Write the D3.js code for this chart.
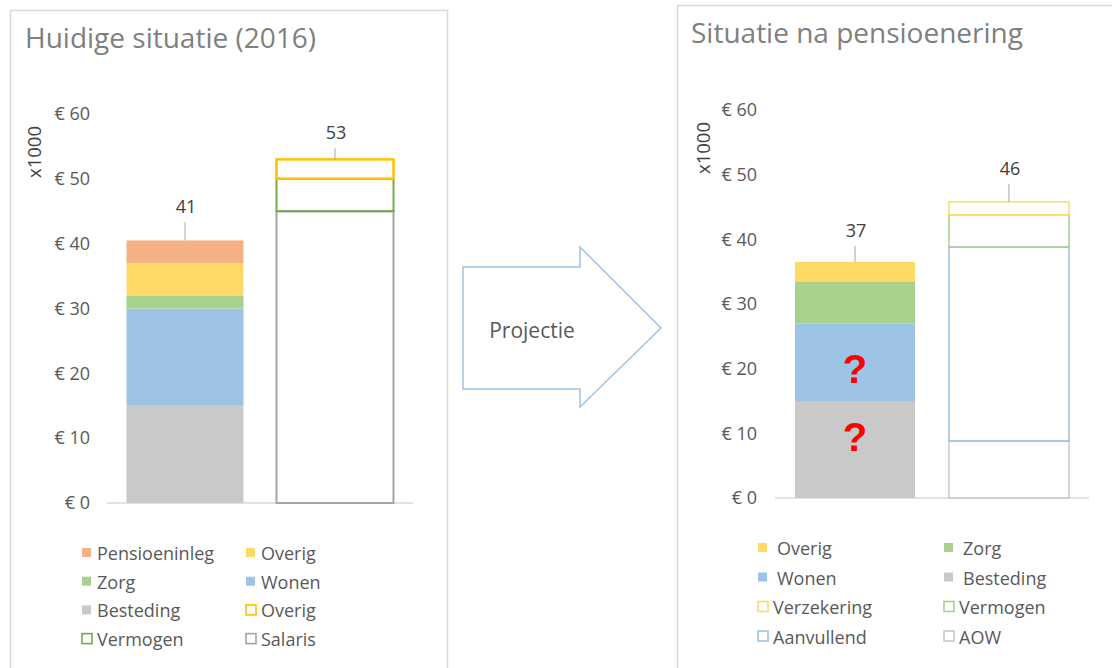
<!DOCTYPE html>
<html>
<head>
<meta charset="utf-8">
<script src="https://cdn.jsdelivr.net/npm/d3@7"></script>
<style>
  html, body { margin: 0; padding: 0; background: #fff; }
  svg { display: block; font-family: "Open Sans", "DejaVu Sans", sans-serif; }
</style>
</head>
<body>
<svg id="chart" width="1112" height="668"></svg>
<script>
// ---------------- DATA ----------------
const bars = ["Uitgaven", "Inkomsten"];
const yTicks = [0, 10, 20, 30, 40, 50, 60];

// Left panel: Huidige situatie (2016)  — values x1000 euro, per bar [Uitgaven, Inkomsten]
const leftTitle = "Huidige situatie (2016)";
const leftSeries = ["Besteding", "Wonen", "Zorg", "Overig", "Pensioeninleg", "Salaris", "Vermogen", "Overig "];
const leftBesteding     = [15, 0];
const leftWonen         = [15, 0];
const leftZorg          = [2, 0];
const leftOverig        = [5, 0];
const leftPensioeninleg = [3.5, 0];
const leftSalaris       = [0, 45];
const leftVermogen      = [0, 5];
const leftOverigInk     = [0, 3];
const leftTotals        = ["41", "53"];
const leftLegend = ["Pensioeninleg", "Overig", "Zorg", "Wonen", "Besteding", "Overig ", "Vermogen", "Salaris"];

// Right panel: Situatie na pensioenering
const rightTitle = "Situatie na pensioenering";
const rightSeries = ["Besteding", "Wonen", "Zorg", "Overig", "AOW", "Aanvullend", "Vermogen", "Verzekering"];
const rightBesteding   = [15, 0];
const rightWonen       = [12, 0];
const rightZorg        = [6.5, 0];
const rightOverig      = [3, 0];
const rightAOW         = [0, 8.8];
const rightAanvullend  = [0, 30];
const rightVermogen    = [0, 5];
const rightVerzekering = [0, 2];
const rightTotals      = ["37", "46"];
const rightLegend = ["Overig", "Zorg", "Wonen", "Besteding", "Verzekering", "Vermogen", "Aanvullend", "AOW"];
const rightQuestion = [{ series: "Wonen", value: 20 }, { series: "Besteding", value: 9.5 }];

// ---------------- STYLES ----------------
const leftStyle = {
  "Besteding": { fill: "#c9c9c9" }, "Wonen": { fill: "#9dc3e6" }, "Zorg": { fill: "#a9d18e" },
  "Overig": { fill: "#ffd966" }, "Pensioeninleg": { fill: "#f4b183" },
  "Salaris": { stroke: "#a5a5a5", sw: 2 }, "Vermogen": { stroke: "#70ad47", sw: 2 }, "Overig ": { stroke: "#ffc000", sw: 2.5 }
};
const rightStyle = {
  "Besteding": { fill: "#c9c9c9" }, "Wonen": { fill: "#9dc3e6" }, "Zorg": { fill: "#a9d18e" },
  "Overig": { fill: "#ffd966" },
  "AOW": { stroke: "#c9c9c9", sw: 1.5 }, "Aanvullend": { stroke: "#9dc3e6", sw: 1.5 },
  "Vermogen": { stroke: "#a9d18e", sw: 1.5 }, "Verzekering": { stroke: "#ffd966", sw: 1.5 }
};

const svg = d3.select("#chart");

function buildRows(names, arrays) {
  return bars.map((b, i) => {
    const row = { bar: b };
    names.forEach((n, k) => row[n] = arrays[k][i]);
    return row;
  });
}

function drawPanel(cfg) {
  const g = svg.append("g");
  // panel frame
  g.append("rect").attr("x", cfg.frame[0] + 0.5).attr("y", cfg.frame[1] + 0.5)
    .attr("width", cfg.frame[2]).attr("height", cfg.frame[3])
    .attr("fill", "#fff").attr("stroke", "#d9d9d9").attr("stroke-width", 1.5);
  // title
  g.append("text").attr("x", cfg.titleX).attr("y", cfg.titleY)
    .attr("font-size", 28).attr("fill", "#7f7f7f").text(cfg.title);

  const y = d3.scaleLinear().domain([0, 60]).range(cfg.yRange);
  const x = d3.scaleBand().domain(bars).range(cfg.xRange).paddingInner(0.22).paddingOuter(0.13);

  // axis
  const ax = g.append("g").attr("transform", `translate(${cfg.xRange[0]},0)`)
    .call(d3.axisLeft(y).tickValues(yTicks).tickSize(0).tickPadding(cfg.tickPad).tickFormat(d => "€ " + d));
  ax.select(".domain").remove();
  ax.selectAll("text").attr("font-size", 18).attr("fill", "#595959")
    .attr("font-family", "'Open Sans', sans-serif");

  // axis title
  g.append("text").attr("transform", `translate(${cfg.unitX},${cfg.unitY}) rotate(-90)`)
    .attr("text-anchor", "middle").attr("dominant-baseline", "central")
    .attr("font-size", 18.5).attr("fill", "#404040").text("x1000");

  // baseline
  g.append("line").attr("x1", cfg.xRange[0]).attr("x2", cfg.xRange[1])
    .attr("y1", y(0)).attr("y2", y(0)).attr("stroke", "#d9d9d9").attr("stroke-width", 1.5);

  const rows = buildRows(cfg.series, cfg.arrays);
  const stacked = d3.stack().keys(cfg.series)(rows);

  stacked.forEach(layer => {
    const st = cfg.style[layer.key];
    layer.forEach((d, i) => {
      if (d[1] - d[0] <= 0) return;
      const r = g.append("rect")
        .attr("x", x(bars[i])).attr("width", x.bandwidth())
        .attr("y", y(d[1])).attr("height", y(d[0]) - y(d[1]));
      if (st.fill) r.attr("fill", st.fill);
      else r.attr("fill", "none").attr("stroke", st.stroke).attr("stroke-width", st.sw);
    });
  });

  // totals with leader lines
  bars.forEach((b, i) => {
    const top = d3.max(stacked, l => l[i][1]);
    const cx = x(b) + x.bandwidth() / 2;
    const off = cfg.labelOff[i];
    g.append("line").attr("x1", cx).attr("x2", cx)
      .attr("y1", y(top) - off + 16).attr("y2", y(top))
      .attr("stroke", "#a6a6a6").attr("stroke-width", 1);
    g.append("text").attr("x", cx + 1).attr("y", y(top) - off)
      .attr("text-anchor", "middle").attr("dominant-baseline", "central")
      .attr("font-size", 18).attr("fill", "#404040").text(cfg.totals[i]);
  });

  // question marks
  (cfg.question || []).forEach(q => {
    g.append("text").attr("x", x(bars[0]) + x.bandwidth() / 2).attr("y", y(q.value))
      .attr("text-anchor", "middle").attr("dominant-baseline", "central")
      .attr("font-size", 40).attr("font-weight", "bold").attr("fill", "#ff0000")
      .attr("font-family", "'Liberation Sans', Arial, sans-serif").text("?");
  });

  // legend
  cfg.legend.forEach((name, k) => {
    const col = k % 2, row = Math.floor(k / 2);
    const lx = cfg.legX[col], ly = cfg.legY + row * cfg.legDy;
    const st = cfg.style[name];
    if (st.fill) {
      g.append("rect").attr("x", lx + 1).attr("y", ly - 5).attr("width", 9).attr("height", 9).attr("fill", st.fill);
    } else {
      g.append("rect").attr("x", lx + 1).attr("y", ly - 5.5).attr("width", 10).attr("height", 10)
        .attr("fill", "none").attr("stroke", st.stroke).attr("stroke-width", 1.6);
    }
    g.append("text").attr("x", lx + (st.fill ? cfg.legTxtFill : cfg.legTxtLine)).attr("y", ly)
      .attr("dominant-baseline", "central").attr("font-size", 18).attr("fill", "#595959")
      .text(name.trim());
  });
}

drawPanel({
  frame: [10, 10, 437, 700], title: leftTitle, titleX: 25, titleY: 48,
  yRange: [503, 114], xRange: [107, 413], tickPad: 17, unitX: 33, unitY: 152,
  series: leftSeries,
  arrays: [leftBesteding, leftWonen, leftZorg, leftOverig, leftPensioeninleg, leftSalaris, leftVermogen, leftOverigInk],
  style: leftStyle, totals: leftTotals, labelOff: [34, 27],
  legend: leftLegend, legX: [81, 245], legY: 553, legDy: 28.7, legTxtFill: 16, legTxtLine: 16
});

drawPanel({
  frame: [677, 5, 500, 700], title: rightTitle, titleX: 691, titleY: 43,
  yRange: [498, 110], xRange: [775, 1089], tickPad: 18, unitX: 702, unitY: 148,
  series: rightSeries,
  arrays: [rightBesteding, rightWonen, rightZorg, rightOverig, rightAOW, rightAanvullend, rightVermogen, rightVerzekering],
  style: rightStyle, totals: rightTotals, labelOff: [32, 34], question: rightQuestion,
  legend: rightLegend, legX: [757, 943], legY: 548, legDy: 29.5, legTxtFill: 20, legTxtLine: 16
});

// Projectie arrow
const arrowPts = [[463, 267], [580, 267], [580, 247], [661, 328], [580, 407], [580, 389], [463, 389]];
svg.append("path").attr("d", d3.line()(arrowPts) + "Z")
  .attr("fill", "#fff").attr("stroke", "#9dc3e6").attr("stroke-width", 1.5).attr("stroke-linejoin", "miter");
svg.append("text").attr("x", 532).attr("y", 330).attr("text-anchor", "middle")
  .attr("dominant-baseline", "central").attr("font-size", 21).attr("fill", "#595959").text("Projectie");
</script>
</body>
</html>
